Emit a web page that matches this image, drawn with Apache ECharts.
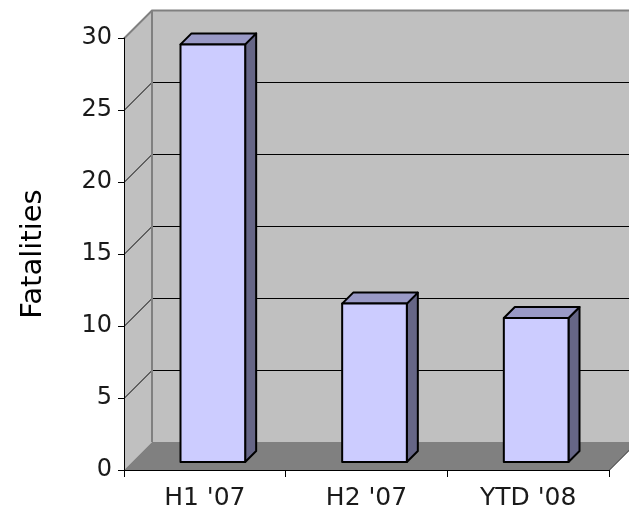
<!DOCTYPE html>
<html>
<head>
<meta charset="utf-8">
<script src="https://cdn.jsdelivr.net/npm/echarts@6/dist/echarts.min.js"></script>
<style>html,body{margin:0;padding:0;background:#fff}#c{width:629px;height:516px}</style>
</head>
<body>
<div id="c"></div>
<script>
const categories = ["H1 '07", "H2 '07", "YTD '08"];
const fatalities = [29, 11, 10];
const yTicks = [0, 5, 10, 15, 20, 25, 30];
const yAxisName = "Fatalities";

const DEPTH = 28, BAR_OFF = 8, BAR_DEP = 11;
const FONT = "DejaVu Sans";

const chart = echarts.init(document.getElementById('c'), null, {renderer: 'canvas'});

function wallsRender(params, api) {
  const cs = params.coordSys;
  const x0 = cs.x, x1 = cs.x + cs.width, yTop = cs.y, yBot = cs.y + cs.height;
  const ch = [];
  ch.push({type: 'polygon', shape: {points: [[x0 + DEPTH, yTop - DEPTH], [x1 + DEPTH, yTop - DEPTH], [x1 + DEPTH, yBot - DEPTH], [x0 + DEPTH, yBot - DEPTH]]},
    style: {fill: '#c0c0c0', stroke: null}});
  ch.push({type: 'polygon', shape: {points: [[x0, yTop], [x0 + DEPTH, yTop - DEPTH], [x0 + DEPTH, yBot - DEPTH], [x0, yBot]]},
    style: {fill: '#c0c0c0', stroke: null}});
  yTicks.forEach(function (v) {
    if (v === 0) return;
    const y = Math.round(api.coord([0, v])[1]) + 0.5;
    const isTop = v === yTicks[yTicks.length - 1];
    ch.push({type: 'polyline', shape: {points: [[x0, y], [x0 + DEPTH, y - DEPTH], [x1 + DEPTH, y - DEPTH]]},
      style: {stroke: isTop ? '#808080' : '#000', lineWidth: isTop ? 2 : 1, fill: null}});
  });
  ch.push({type: 'line', shape: {x1: x0 + DEPTH, y1: yTop - DEPTH, x2: x0 + DEPTH, y2: yBot - DEPTH},
    style: {stroke: '#808080', lineWidth: 2}});
  ch.push({type: 'polygon', shape: {points: [[x0, yBot], [x0 + DEPTH, yBot - DEPTH], [x1 + DEPTH, yBot - DEPTH], [x1, yBot]]},
    style: {fill: '#808080', stroke: null}});
  ch.push({type: 'polyline', shape: {points: [[x0, yBot + 0.5], [x1, yBot + 0.5], [x1 + DEPTH, yBot - DEPTH + 0.5]]},
    style: {stroke: '#000', lineWidth: 1, fill: null}});
  return {type: 'group', children: ch};
}

function barRender(params, api) {
  const idx = api.value(0), val = api.value(1);
  const base = api.coord([idx, 0]);
  const top = api.coord([idx, val]);
  const w = api.size([1, 0])[0] * 0.4;
  const xl = base[0] - w / 2 + BAR_OFF, xr = base[0] + w / 2 + BAR_OFF;
  const yb = base[1] - BAR_OFF, yt = top[1] - BAR_OFF;
  const d = BAR_DEP;
  const st = {stroke: '#000', lineWidth: 2, lineJoin: 'round'};
  return {type: 'group', children: [
    {type: 'polygon', shape: {points: [[xr, yt], [xr + d, yt - d], [xr + d, yb - d], [xr, yb]]}, style: Object.assign({fill: '#666686'}, st)},
    {type: 'polygon', shape: {points: [[xl, yt], [xr, yt], [xr + d, yt - d], [xl + d, yt - d]]}, style: Object.assign({fill: '#9999c6'}, st)},
    {type: 'polygon', shape: {points: [[xl, yt], [xr, yt], [xr, yb], [xl, yb]]}, style: Object.assign({fill: '#ccccff'}, st)}
  ]};
}

chart.setOption({
  animation: false,
  backgroundColor: '#fff',
  grid: {left: 124, right: 20, top: 38, bottom: 46, containLabel: false},
  xAxis: {
    type: 'category', data: categories, z: 10,
    axisLine: {show: true, lineStyle: {color: '#000', width: 1}},
    axisTick: {show: true, length: 7, lineStyle: {color: '#000'}},
    axisLabel: {fontFamily: FONT, fontSize: 25, color: '#1a1a1a', margin: 16},
    splitLine: {show: false}
  },
  yAxis: {
    type: 'value', min: 0, max: 30, interval: 5, z: 10,
    name: yAxisName, nameLocation: 'middle', nameGap: 76,
    nameTextStyle: {fontFamily: FONT, fontSize: 29, color: '#000'},
    axisLine: {show: true, lineStyle: {color: '#000', width: 1}},
    axisTick: {show: true, length: 6, lineStyle: {color: '#000'}},
    axisLabel: {fontFamily: FONT, fontSize: 24, color: '#1a1a1a', margin: 12},
    splitLine: {show: false}
  },
  series: [
    {type: 'custom', renderItem: wallsRender, data: [[0, 0]], z: 1, silent: true},
    {type: 'custom', renderItem: barRender, data: fatalities.map(function (v, i) { return [i, v]; }), encode: {x: 0, y: 1}, z: 3}
  ]
});
</script>
</body>
</html>
